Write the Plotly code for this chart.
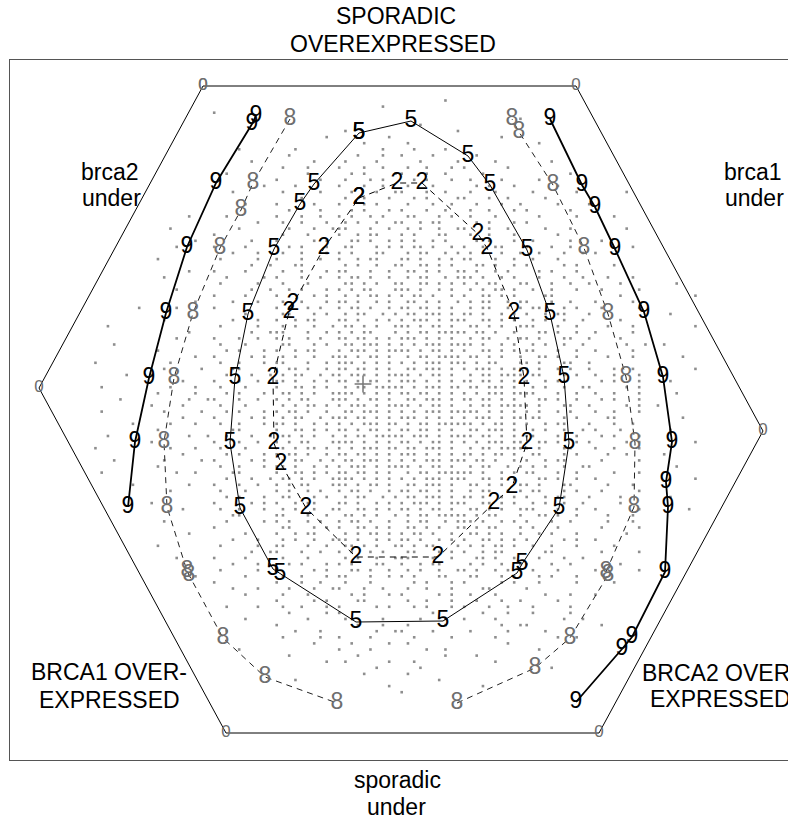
import plotly.graph_objects as go

# chart coordinates are given in the units of the original drawing (y grows downward)

# hexagon outline (level 0)
hex_x = [203, 576, 763, 599, 226, 39, 203]
hex_y = [86, 86, 431, 733, 733, 388, 86]

# level 2 (closed, dashed)
c2_x = [359, 397, 422, 478, 487, 514, 524, 527, 512, 494, 438, 356, 306, 281, 274, 273, 289, 293, 324, 359]
c2_y = [198, 183, 183, 234, 248, 313, 378, 443, 487, 503, 557, 557, 508, 464, 443, 378, 312, 304, 248, 198]

# level 5 (closed, solid)
c5_x = [359, 411, 468, 490, 527, 550, 564, 569, 559, 522, 517, 443, 356, 280, 273, 240, 230, 235, 248, 274, 300, 314, 359]
c5_y = [133, 121, 156, 185, 250, 314, 377, 443, 508, 564, 573, 621, 622, 574, 569, 508, 443, 378, 314, 249, 204, 184, 133]

# level 8 (two open branches, dashed)
c8a_x = [290, 253, 241, 220, 193, 174, 164, 167, 187, 189, 223, 265, 337]
c8a_y = [119, 183, 210, 248, 313, 378, 442, 507, 571, 575, 638, 677, 703]
c8b_x = [457, 535, 570, 608, 606, 634, 635, 626, 608, 584, 553, 519, 512]
c8b_y = [703, 668, 638, 575, 572, 507, 443, 377, 314, 248, 185, 132, 119]

# level 9 (two open branches, heavy)
c9a_x = [256, 252, 216, 187, 166, 149, 135, 128]
c9a_y = [116, 124, 183, 247, 313, 378, 442, 507]
c9b_x = [550, 582, 595, 615, 644, 663, 672, 666, 668, 665, 632, 622, 576]
c9b_y = [119, 185, 207, 249, 312, 377, 442, 482, 507, 572, 637, 649, 702]

centre_x = [363]
centre_y = [384]

# observed samples on the plotting grid, one string per grid row ('#' = point)
dot_rows = [
    ".......... .......... .......... .......... .......... .......... .......... .......... .......... ..........",
    ".......... .......... .......... .......... .......... .......#.. .......... .......... .......... ..........",
    ".......... .......... .......... .......... .......#.. .......... .......... .......... .......... ..........",
    ".......... .......... #......... .......... .......... .......... .......... .......... .......... ..........",
    ".......... .......... .......... .......... .......... .......... .........# .......... .......... ..........",
    ".......... .......... .......... .......... .......... ...#...... .......... .......... .......... ..........",
    ".......... .......... .......... .......... .#........ .........# .......... .......... .......... ..........",
    ".......... .......... .......... ........#. ........#. .......... ......#... .......... .......... ..........",
    ".......... .......... .......... .......... ....#..... .#........ .......... ..#....... .......... ..........",
    ".......... .......... ....#..... ...#...... .......#.. ..#....#.. .......... .......... .......... ..........",
    ".......... .......... .......... ..#....... ...#...#.. #....#.... ..#....... .......... .......... ..........",
    ".......... .......... ......#... ......#... .#....#... ...#.....# .....#.... ....#..... .......... ..........",
    ".......... .......... .......... .#...#.... #...#..#.. .#..#...#. #......#.. .......... .......... ..........",
    ".......... .......... ..#....... .....#.... ..#.#....# #...#..#.. ...#...... .......#.. .......... ..........",
    ".......... .......... .......... #......#.. .#...#.#.. ..#.#...#. .#....#... ..#....... .......... ..........",
    ".......... .......... ........#. ...#...... #...#..#.. .#...#.... ..#.#...#. .....#.... .......... ..........",
    ".......... .......... ...#...... .#.....#.. ..#...#..# #...#..#.. .#...#.... .#......#. ......#... ..........",
    ".......... .......... .......... ....#..... .#..#...#. ..#.#....# #...#..#.. ...#...... .......... ..........",
    ".......... .......... .....#.... #.....#... #...#.#... .#...#..#. ..#...#..# .....#.... #......... ..........",
    ".......... .......... .......... ..#....#.. ..#.#...#. #...#..#.. .#..#...#. #......#.. .......... ..........",
    ".......... ......#... ..#....... #...#..#.. #.#..#.#.. .##...#.#. .#...#.... ..#.....#. ....#..... ..........",
    ".......... .......... .......#.. .#..#...#. .#.#..#..# #..#.##... ..#.#...#. #......... .......... ..........",
    ".......... ...#...... ....#..... ..#...#..# ##...#..#. .#.#..#..# #...#..#.. ...#...#.. ......#... ..........",
    ".......... .......... #......... .#...#.... #..#.##... #.#...##.. .#..#...#. .....#.... .......... ..........",
    ".......... .......#.. ......#... #.....#.#. ..##.#..#. #.#..#.#.. ..#.#...#. .#.....#.. ..#....... ..........",
    ".......... ....#..... #....#.... ..#.#...#. .##...#.#. #.##.#..#. #..#.##... #...#..#.. .......#.. ..........",
    ".......... .......... ...#...#.. .#..#...#. #.#...##.. .#.##..#.# .#.#..#..# ..#...#..# .#........ ..........",
    ".......... .#........ .#.....#.. #...#..#.. #..#.##... ##.#..#.#. ##...#..#. .#...#.... .......... ..........",
    ".......... .......... ......#..# ...##..... .#.#..#..# #..##.#.#. ..##.#..#. #.....#.#. ....#..... ..........",
    ".......... ......#... #....#.... .#..#...#. ##...#..#. .##.#.#..# #.#..#.#.. ..#.#...#. .......... ..........",
    ".......... ..#....... ..#.....#. #...#..#.. #.##.#..#. .#.##..#.# ##.#..#.#. ..#...#..# ...#...#.. ..........",
    ".......... .......... .#.....#.. .#...#.... .##.#.#..# #..##.#.#. #.#.##...# #...#..#.. #....#.... ....#.....",
    ".......... ....#..... ......#..# ..#.#...#. #.#.##...# ##.#..#.#. .#.#.##.#. .#..#...#. ..#.....#. ..........",
    ".......... .......... #....#.... #.....#.#. .#.#.##.#. #.##.#..#. #..##.#.#. ...##..... .....#.... .......#..",
    ".......... .......#.. ...#...#.. .#..#...#. ##.#..#.#. .##.#.#..# .#.##..#.# #...#..#.. .#.....#.. ..........",
    "........#. ....#..... #......... #.#..#.#.. #.##.#..#. ##.##.#.#. .#.##..#.# .##...#.#. ..#.....#. ..........",
    ".......... .......... .....#.... .##...#.#. .#.##..#.# .##.###.#. ##.#..#.#. #..#.##... #......... ...#......",
    ".......... ..#....... ...#...#.. #..#.##... ##.#..#.#. #.###.#.## #..##.#.#. .#.#..#..# .....#.... ..........",
    "...#...... .......... .#.....#.. .#.#..#..# .##.#.#..# ##.#.##.#. .##.#.#..# ##...#..#. ...#...#.. .......#..",
    ".......... ......#... ......#..# ##...#..#. #.#.##...# .#.##.#### #.##.#..#. ..##.#..#. .#.....#.. ..........",
    ".......... ....#..... #...#..#.. #.#..#.#.. ##.##.#.#. ###.#.#.#. .#.##..#.# #.#...##.. #....#.... ..........",
    "....#..... .......... .#...#.... .##...#.#. .##.###.#. #.#.###.## ##.#..#.#. .#.#..#..# ......#..# ..#.......",
    ".......... .#........ ..#.#...#. #..#.##... #.###.#.## ##.#.##.#. #..##.#.#. ##...#..#. .#.....#.. ..........",
    ".......... .......#.. #.....#.#. .#.#..#..# ##.#.##.#. .#.##.#### .##.#.#..# ..##.#..#. ...#...#.. .....#....",
    ".#........ ...#...... .#..#...#. ##...#..#. ###.#.#.#. #.#.###.## #.#.##...# #.#...##.. #......... ..........",
    ".......... ..#.....#. ...##..... #.##.#..#. ##.##.#.#. .##.###.#. #.###.#.## #.#..#.#.. #...#..#.. .......#..",
    "......#... #......... ..#...#..# .#.##..#.# #.###.#.## ##.#.##.#. .#.##.#### .##...#.#. .#..#...#. ..........",
    ".......... .....#.... #...#..#.. ##.#..#.#. ##.#.##.#. ###.#.#.#. ##.##.#.#. #..#.##... ..#.#...#. ...#......",
    "..#....... ...#...#.. .#...#.... #..##.#.#. .#.##.#### #.#.###.## .##.###.#. .#.#..#..# #.....#.#. ..........",
    ".......... .#.....#.. ..#.#...#. .##.#.#..# ###.#.#.#. ##.##.#.#. #.#.###.## ##...#..#. .#..#...#. ....#.....",
    ".....#.... ......#..# #...#..#.. #.#.##...# ##.#.##.#. .##.###.#. ##.##.#.#. ..##.#..#. ..#.#...#. ..........",
    ".......... #....#.... .#...#.... .#.#.##.#. #.###.#.## ##.#.##.#. .#.##.#### #.#...##.. #.....#.#. .#........",
    "..#....... ..#.....#. ..#.#...#. #.##.#..#. .##.###.#. #.#.###.## ###.#.#.#. #.#..#.#.. .#..#...#. ..........",
    ".......... .....#.... #.....#.#. .#.##..#.# ##.##.#.#. ###.#.#.#. #.###.#.## .##...#.#. ...##..... .....#....",
    ".......#.. ...#...#.. .#..#...#. ##.#..#.#. #.#.###.## .#.##.#### ##.#.##.#. #..#.##... #...#..#.. ..........",
    ".......... .#........ ...##..... #..##.#.#. ##.#.##.#. ##.##.#.#. .##.###.#. .#.#..#..# .#...#.... ...#......",
    "...#...... ......#..# ..#...#..# .##.#.#..# .#.##.#### #.###.#.## ##.##.#.#. ##...#..#. ..#.#...#. ..........",
    ".......... #......... #...#..#.. #.#.##...# ###.#.#.#. ##.#.##.#. #.#.###.## ..##.#..#. #.....#.#. .......#..",
    ".#........ ...#...#.. .#...#.... .#.#.##.#. #.#.###.## .##.###.#. .#.##.#### #.#...##.. .#..#...#. ..........",
    ".......... .....#.... ..#.#...#. #.##.#..#. ##.##.#.#. ###.#.#.#. ##.#.##.#. .##...#.#. ...#..#... ..#.......",
    "....#..... ..#.....#. #.....#.#. .#.##..#.# .##.###.#. #.#.###.## #.##.#..#. #..#.##... ..#.....#. ..........",
    ".......... .#........ .#..#...#. ##.#..#.#. #.###.#.## ##.#.##.#. .#.##..#.# .#.#..#..# #......... ....#.....",
    "..#....... ....#..#.. ...##..... #..##.#.#. ##.##.#.#. .#.##.#### ##.#..#.#. ##...#..#. ....#...#. ..........",
    ".......... .......... ..#...#..# .##.#.#..# ###.#.#.#. #.#.###.## #..##.#.#. ..##.#..#. .#........ .......#..",
    ".......#.. ......#... #...#..#.. #.#.##...# ##.#.##.#. .##.###.#. .##.#.#..# #.#...##.. ...#...#.. ..........",
    ".......... ...#...... .#...#.... #.#..#.#.. #.##.#..#. ##.##.#.#. .#.##..#.# .##...#.#. ..#.....#. ..........",
    ".......... .......... ..#.#...#. .##...#.#. .#.##..#.# .##.###.#. ##.#..#.#. #..#.##... #....#.... ...#......",
    ".......... #......... #.....#.#. #..#.##... ##.#..#.#. #.###.#.## #..##.#.#. .#.#..#..# .....#.... ..........",
    ".......... .....#.... .#..#...#. .#.#..#..# #..##.#.#. ##.#.##.#. .##.#.#..# ##...#..#. .#......#. ......#...",
    ".......... .......... ...##..... ##...#..#. .##.#.#..# .#.##.#### #.#.##...# ..##.#..#. ...#...#.. ..........",
    ".......... ..#....... ..#.....#. #.#..#.#.. #.##.#..#. .#.##..#.# ##.#..#.#. #...#..#.. ...#...#.. ..........",
    ".......... .......... #......... .##...#.#. #..##.#.#. .##.#.#..# #.#.##...# .#...#.... ..#.....#. ..........",
    ".......... ......#... .....#.... #..#.##... .#.#.##.#. #.##.#..#. .##.#.#..# ..#.#...#. ......#... ..........",
    ".......... .......... ...#...#.. .#.#..#..# ##.#..#.#. ##.#..#.#. #..##.#.#. #.....#.#. .#........ ..........",
    ".......... .#........ .#.....#.. ##...#..#. .##.#.#..# #.#.##...# .#.#.##.#. .#..#...#. ....#..... ..........",
    ".......... .......... ......#..# #...#..#.. #.#..#.#.. .##...#.#. #..#.##... ...##..... ..#.....#. ..........",
    ".......... ....#..... #....#.... .#...#.... .#.#..#..# ##...#..#. ..##.#..#. ..#...#..# .......... ..........",
    ".......... .......... ...#...#.. ..#.#...#. #.#...##.. #..#.##... .#.#..#..# #...#..#.. .....#.... ..........",
    ".......... .......... .#.....#.. #.....#.#. ..##.#..#. .#.#..#..# #.#..#.#.. .#...#.... .#......#. ..........",
    ".......... .......#.. .....#.... .#..#...#. ##...#..#. #.#...##.. .##...#.#. ..#.#...#. .......... ..........",
    ".......... .......... #......... #...#..#.. .#...#.... ..#.#...#. #.....#.#. ..#.....#. ....#..... ..........",
    ".......... .......... ...#...#.. ..#...#..# #...#..#.. .#..#...#. ...##..... #......... .......... ..........",
    ".......... .......... .....#.... .#...#.... ..#.#...#. #.....#.#. .#...#.... ...#...#.. .#........ ..........",
    ".......... .......... .......... #.....#.#. ...##..... .#..#...#. ..#...#..# .....#.... .......... ..........",
    ".......... .......... ..#....#.. .#..#...#. #.....#.#. ..#.#...#. #...#..#.. .#.....#.. .......... ..........",
    ".......... .......... .......... ..#.....#. #......... .....#.... ...#...#.. .#.....#.. .......... ..........",
    ".......... .......... .....#.... .....#.... .#.....#.. ...#...#.. #....#.... ......#..# .......... ..........",
    ".......... .......... .......... #......... ...#...#.. .#.....#.. ......#..# #......... ..#....... ..........",
    ".......... .......... ..#....... ...#...#.. ......#..# #....#.... .#.....#.. ...#...... .......... ..........",
    ".......... .......... .......... .#.....#.. #....#.... ..#.....#. .....#.... .....#..#. .......... ..........",
    ".......... .......... .......... ......#... ..#.....#. .#........ .......#.. .......... .......... ..........",
    ".......... .......... ....#..... .......... #....#.... ....#..#.. .......... ..#....... .......... ..........",
    ".......... .......... .......... ..#....... ...#...... .......#.. ..#....... .......... .......... ..........",
    ".......... .......... .......... ........#. .#......#. ..#....... .....#.... .......... .......... ..........",
    ".......... .......... .......... .......... ......#... ...#...... .......... ....#..... .......... ..........",
    ".......... .......... .......... .......... ....#..... .#........ .......... .......... .......... ..........",
    ".......... .......... .......... ...#...... .......... ......#... .......... .......... .......... ..........",
    ".......... .......... .......... .......... ........#. .......... ...#...... .......... .......... ..........",
    ".......... .......... .......... .......... .......... #......... .......... .......... .......... ..........",
    ".......... .......... .......... .......... .......... .......... .......... .......... .......... ..........",
]

# grid on which the samples were plotted
grid_x0, grid_dx = 89.2, 6.25
grid_y0, grid_dy = 94.4, 6.1

dots_x, dots_y = [], []
for j, row in enumerate(dot_rows):
    for k, ch in enumerate(row.replace(" ", "")):
        if ch == "#":
            dots_x.append(grid_x0 + grid_dx * k)
            dots_y.append(grid_y0 + grid_dy * j)

FONT = "Liberation Sans, Arial, sans-serif"
GREY_TXT = "#6e6e6e"

fig = go.Figure()

fig.add_trace(go.Scatter(x=dots_x, y=dots_y, mode="markers",
                         marker=dict(symbol="square", size=2.6, color="#8e8e8e", line=dict(width=0))))


def contour(xs, ys, label, line_color, line_width, dash, text_color, size=23):
    fig.add_trace(go.Scatter(
        x=xs, y=ys, mode="lines+text", text=[label] * len(xs),
        textposition="middle center",
        textfont=dict(family=FONT, size=size, color=text_color),
        line=dict(color=line_color, width=line_width, dash=dash),
    ))


contour(hex_x, hex_y, "0", "black", 1, "solid", GREY_TXT, size=17)
contour(c2_x, c2_y, "2", "black", 1, "6px,5px", "black")
contour(c5_x, c5_y, "5", "black", 1, "solid", "black")
contour(c8a_x, c8a_y, "8", "#222222", 1, "6px,5px", GREY_TXT)
contour(c8b_x, c8b_y, "8", "#222222", 1, "6px,5px", GREY_TXT)
contour(c9a_x, c9a_y, "9", "black", 1.8, "solid", "black")
contour(c9b_x, c9b_y, "9", "black", 1.8, "solid", "black")

fig.add_trace(go.Scatter(x=centre_x, y=centre_y, mode="markers",
                         marker=dict(symbol="cross-thin-open", size=12, color="#777777",
                                     line=dict(color="#777777", width=1.5))))

# margin text, placed in drawing units and converted to paper fractions
labels = [
    ("SPORADIC", 396, 16),
    ("OVEREXPRESSED", 393, 44),
    ("brca2", 110, 172),
    ("under", 111, 198),
    ("brca1", 753, 172),
    ("under", 754, 198),
    ("BRCA1 OVER-", 109, 672),
    ("EXPRESSED", 109, 700),
    ("BRCA2 OVER-", 720, 673),
    ("EXPRESSED", 720, 699),
    ("sporadic", 397, 780),
    ("under", 396, 807),
]
for txt, lx, ly in labels:
    fig.add_annotation(text=txt, xref="paper", yref="paper",
                       x=(lx - 10) / 778, y=(760 - ly) / 700,
                       xanchor="center", yanchor="middle", showarrow=False,
                       font=dict(family=FONT, size=23, color="black"))

fig.update_xaxes(range=[10, 788], showgrid=False, zeroline=False, showticklabels=False,
                 ticks="", showline=True, mirror=True, linecolor="#555555", linewidth=1.2)
fig.update_yaxes(range=[760, 60], showgrid=False, zeroline=False, showticklabels=False,
                 ticks="", showline=True, mirror=False, linecolor="#555555", linewidth=1.2)

fig.update_layout(width=788, height=823, margin=dict(l=10, r=0, t=60, b=63),
                  showlegend=False, plot_bgcolor="white", paper_bgcolor="white",
                  font=dict(family=FONT))

fig.write_html("out.html", config={"displayModeBar": False},
               post_script="document.body.style.margin='0';document.body.style.overflow='hidden';")
